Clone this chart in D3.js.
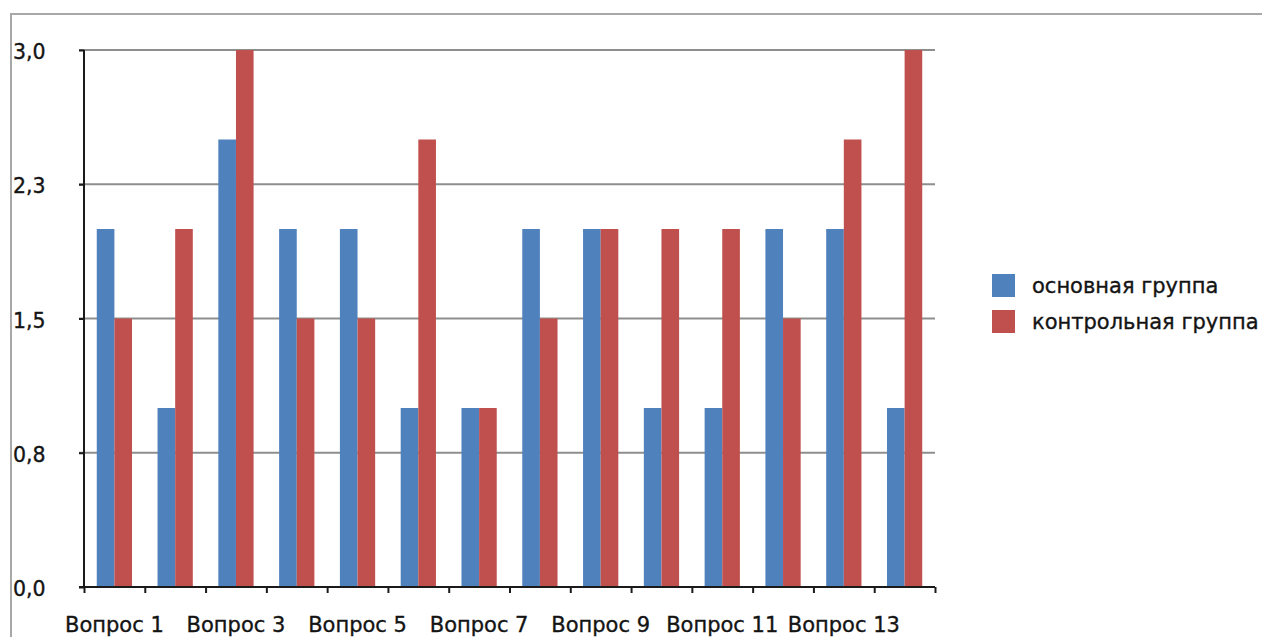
<!DOCTYPE html>
<html>
<head>
<meta charset="utf-8">
<script src="https://cdn.jsdelivr.net/npm/d3@7"></script>
<style>
  html, body { margin: 0; padding: 0; background: #fff; }
  svg { display: block; }
  text { font-family: "DejaVu Sans", Verdana, sans-serif; fill: #141414; stroke: #141414; stroke-width: 0.35px; }
</style>
</head>
<body>
<script>
// Questions and the scores of the two groups
const categories = ["Вопрос 1","Вопрос 2","Вопрос 3","Вопрос 4","Вопрос 5","Вопрос 6","Вопрос 7",
                    "Вопрос 8","Вопрос 9","Вопрос 10","Вопрос 11","Вопрос 12","Вопрос 13","Вопрос 14"];
const seriesNames = ["основная группа", "контрольная группа"];
const mainGroup    = [2, 1, 2.5, 2, 2, 1, 1, 2, 2, 1, 1, 2, 2, 1];
const controlGroup = [1.5, 2, 3, 1.5, 1.5, 2.5, 1, 1.5, 2, 2, 2, 1.5, 2.5, 3];
const yTickValues = [0, 0.75, 1.5, 2.25, 3];
const yTickLabels = ["0,0", "0,8", "1,5", "2,3", "3,0"];
const colors = ["#4F81BD", "#C0504D"];

const W = 1262, H = 637;
const plotL = 84, plotR = 935, plotT = 50, plotB = 587;

const svg = d3.select("body").append("svg").attr("width", W).attr("height", H);

// outer chart frame
svg.append("path")
  .attr("d", `M11,${H + 5}V14H${W + 5}`)
  .attr("fill", "none").attr("stroke", "#a8a8a8").attr("stroke-width", 2);

const x = d3.scaleBand().domain(categories).range([plotL, plotR])
  .paddingInner(0.42).paddingOuter(0.21);
const xs = d3.scaleBand().domain(seriesNames).range([0, x.bandwidth()]);
const y = d3.scaleLinear().domain([0, 3]).range([plotB, plotT]);

// horizontal gridlines
svg.append("g").selectAll("line").data(yTickValues.slice(1)).join("line")
  .attr("x1", plotL - 5).attr("x2", plotR)
  .attr("y1", d => y(d)).attr("y2", d => y(d))
  .attr("stroke", "#8e8e8e").attr("stroke-width", 2);

// bars
const rows = categories.map((c, i) => ({ c, vals: [mainGroup[i], controlGroup[i]] }));
svg.append("g").selectAll("g").data(rows).join("g")
  .attr("transform", d => `translate(${x(d.c)},0)`)
  .selectAll("rect").data(d => d.vals.map((v, k) => ({ v, k }))).join("rect")
  .attr("x", d => xs(seriesNames[d.k]))
  .attr("width", xs.bandwidth())
  .attr("y", d => y(d.v))
  .attr("height", d => y(0) - y(d.v))
  .attr("fill", d => colors[d.k]);

// y axis
const yAxis = d3.axisLeft(y).tickValues(yTickValues).tickSize(5)
  .tickFormat((d, i) => yTickLabels[i]);
const gy = svg.append("g").attr("transform", `translate(${plotL},0)`).call(yAxis);
gy.select(".domain").attr("stroke", "#1a1a1a").attr("stroke-width", 2).attr("d", `M0,${plotT}V${plotB}`);
gy.selectAll(".tick line").attr("stroke", "#1a1a1a").attr("stroke-width", 2);
gy.selectAll(".tick text")
  .attr("x", 13 - plotL).attr("dy", "0.42em")
  .attr("text-anchor", "start")
  .style("font-size", "20.5px").attr("font-family", null).attr("fill", null);

// x axis: ticks at category boundaries, labels on every other question
const xb = d3.scaleLinear().domain([0, categories.length]).range([plotL, plotR]);
const gx = svg.append("g").attr("transform", `translate(0,${plotB})`)
  .call(d3.axisBottom(xb).tickValues(d3.range(categories.length + 1))
    .tickSize(6).tickFormat(""));
gx.select(".domain").attr("stroke", "#1a1a1a").attr("stroke-width", 2).attr("d", `M${plotL - 5},0H${plotR}`);
gx.selectAll(".tick line").attr("stroke", "#1a1a1a").attr("stroke-width", 2);

svg.append("g").selectAll("text").data(categories.filter((c, i) => i % 2 === 0)).join("text")
  .attr("x", d => x(d) + x.bandwidth() / 2)
  .attr("y", 632)
  .attr("text-anchor", "middle")
  .style("font-size", "21px")
  .text(d => d);

// legend
const lg = svg.append("g").attr("transform", "translate(992,274)");
const items = lg.selectAll("g").data(seriesNames).join("g")
  .attr("transform", (d, i) => `translate(0,${i * 36})`);
items.append("rect").attr("width", 23).attr("height", 23).attr("fill", (d, i) => colors[i]);
items.append("text").attr("x", 40).attr("y", 11.5).attr("dy", "0.35em")
  .style("font-size", "21px").text(d => d);
</script>
</body>
</html>
